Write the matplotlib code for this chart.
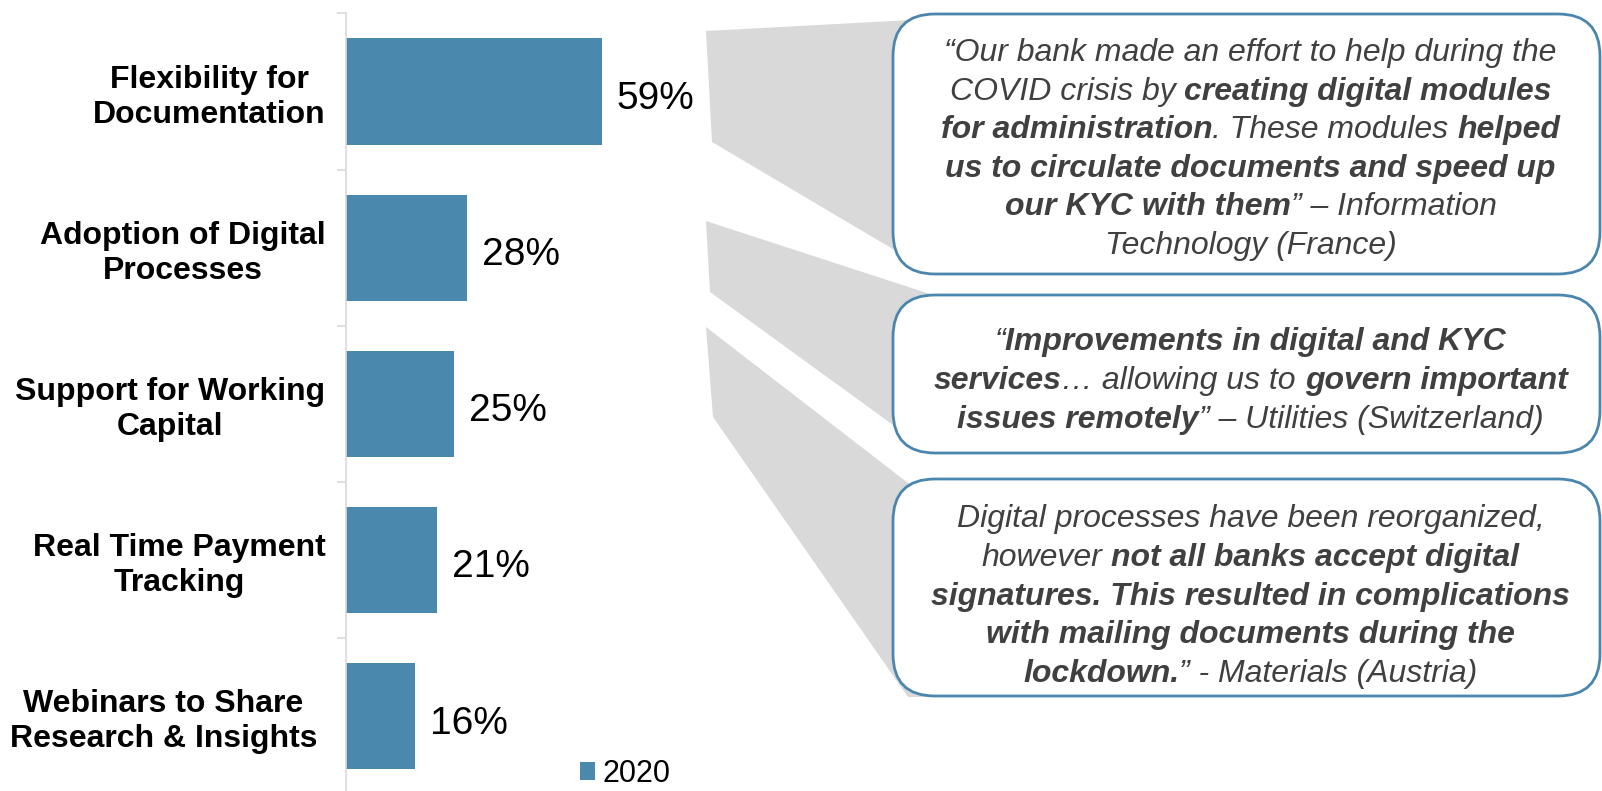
import matplotlib
matplotlib.use("Agg")
import matplotlib.pyplot as plt
from matplotlib.patches import Polygon, FancyBboxPatch, Patch
from matplotlib.transforms import ScaledTranslation

# ---------------- data ----------------
categories = ["Flexibility for\nDocumentation",
              "Adoption of Digital\nProcesses",
              "Support for Working\nCapital",
              "Real Time Payment\nTracking",
              "Webinars to Share\nResearch & Insights"]
values = [59, 28, 25, 21, 16]
series_name = "2020"

quote1 = [
    [("“Our bank made an effort to help during the", "i")],
    [("COVID crisis by ", "i"), ("creating digital modules", "bi")],
    [("for administration", "bi"), (". These modules ", "i"), ("helped", "bi")],
    [("us to circulate documents and speed up", "bi")],
    [("our KYC with them", "bi"), ("” – Information", "i")],
    [("Technology (France)", "i")],
]
quote2 = [
    [("“", "i"), ("Improvements in digital and KYC", "bi")],
    [("services", "bi"), ("… allowing us to ", "i"), ("govern important", "bi")],
    [("issues remotely", "bi"), ("” – Utilities (Switzerland)", "i")],
]
quote3 = [
    [("Digital processes have been reorganized,", "i")],
    [("however ", "i"), ("not all banks accept digital", "bi")],
    [("signatures. This resulted in complications", "bi")],
    [("with mailing documents during the", "bi")],
    [("lockdown.", "bi"), ("” - Materials (Austria)", "i")],
]

# ---------------- style ----------------
W, H, DPI = 1602, 791, 100
FAM = ["Liberation Sans", "DejaVu Sans"]
BAR_C = "#4A88AD"
BOX_C = "#4A86AD"
GREY = "#D9D9D9"
TXT_C = "#404040"
plt.rcParams["font.family"] = FAM

fig = plt.figure(figsize=(W / DPI, H / DPI), dpi=DPI)
fig.patch.set_facecolor("white")

# main bar axes (pixel geometry)
ax_left, ax_top, ax_bot = 345.5, 13.5, 794.0
px_per_unit = 4.34
xmax = 80
ax = fig.add_axes([ax_left / W, (H - ax_bot) / H,
                   xmax * px_per_unit / W, (ax_bot - ax_top) / H])
ax.set_zorder(2)
ax.patch.set_alpha(0)

ypos = list(range(len(categories)))
bars = ax.barh(ypos, values, height=0.68, color=BAR_C, label=series_name)
ax.set_xlim(0, xmax)
ax.set_ylim(len(categories) - 0.5, -0.5)

for y, v in zip(ypos, values):
    ax.annotate(f"{v}%", xy=(v, y), xytext=(11, -5.5), textcoords="offset points",
                ha="left", va="center", fontsize=28, color="black")

for s in ["top", "right", "bottom"]:
    ax.spines[s].set_visible(False)
ax.spines["left"].set_color(GREY)
ax.spines["left"].set_linewidth(1.2)
ax.set_xticks([])
ax.set_yticks(ypos)
ax.set_yticklabels(categories, fontsize=23, fontweight="bold", color="black",
                   linespacing=1.2)
for lbl in ax.get_yticklabels():
    lbl.set_multialignment("center")
ax.tick_params(axis="y", which="major", length=0, pad=14.4)
ax.set_yticks([y - 0.5 for y in range(len(categories) + 1)], minor=True)
ax.tick_params(axis="y", which="minor", length=6.5, width=1.2, color=GREY)
# the last label sits slightly further left in the original
last = ax.get_yticklabels()[-1]
last.set_transform(last.get_transform() + ScaledTranslation(-6 / 72, 0, fig.dpi_scale_trans))

leg = ax.legend(handles=[Patch(facecolor=BAR_C, label=series_name)],
                loc="center left", bbox_to_anchor=(580 / W, (H - 774) / H),
                bbox_transform=fig.transFigure, frameon=False, fontsize=22,
                handlelength=0.5, handleheight=0.5, handletextpad=0.22,
                borderpad=0, borderaxespad=0)

# overlay in pixel coordinates for call-out boxes
ov = fig.add_axes([0, 0, 1, 1])
ov.set_zorder(1)
ov.set_xlim(0, W)
ov.set_ylim(H, 0)
ov.axis("off")

connectors = [
    [(706, 31), (930, 19), (930, 271), (712, 142)],
    [(706, 221), (933, 295), (933, 454), (710, 292)],
    [(706, 327), (908, 483), (940, 483), (940, 697), (908, 697), (713, 417)],
]
for pts in connectors:
    ov.add_patch(Polygon(pts, closed=True, facecolor=GREY, edgecolor="none", zorder=1))

boxes = [(893, 14, 1600, 274), (893, 295, 1600, 453), (893, 479, 1600, 696)]
for x0, y0, x1, y1 in boxes:
    ov.add_patch(FancyBboxPatch((x0, y0), x1 - x0, y1 - y0,
                                boxstyle="round,pad=0,rounding_size=42",
                                facecolor="white", edgecolor=BOX_C, linewidth=2,
                                zorder=2))

renderer = fig.canvas.get_renderer()
FS = 23


def twidth(txt, weight):
    t = ov.text(0, 0, txt, fontsize=FS, style="italic", fontweight=weight)
    w = t.get_window_extent(renderer).width
    t.remove()
    return w


space_w = {wt: twidth("a a", wt) - twidth("aa", wt) for wt in ("normal", "bold")}


def draw_rich(lines, cx, baselines):
    for segs, yb in zip(lines, baselines):
        items = []
        total = 0.0
        for txt, st in segs:
            wt = "bold" if "b" in st else "normal"
            core = txt.strip(" ")
            lead = len(txt) - len(txt.lstrip(" "))
            trail = len(txt) - len(txt.rstrip(" "))
            cw = twidth(core, wt) if core else 0.0
            items.append((core, wt, lead * space_w[wt], cw, trail * space_w[wt]))
            total += lead * space_w[wt] + cw + trail * space_w[wt]
        x = cx - total / 2
        for core, wt, lw, cw, tw in items:
            x += lw
            if core:
                ov.text(x, yb, core, fontsize=FS, style="italic", fontweight=wt,
                        color=TXT_C, ha="left", va="baseline", zorder=3)
            x += cw + tw


cx = (893 + 1600) / 2 + 4
draw_rich(quote1, cx, [61 + 38.6 * i for i in range(6)])
draw_rich(quote2, cx, [350 + 38.8 * i for i in range(3)])
draw_rich(quote3, cx, [527 + 38.8 * i for i in range(5)])

fig.savefig("out.png", dpi=DPI, facecolor="white")
